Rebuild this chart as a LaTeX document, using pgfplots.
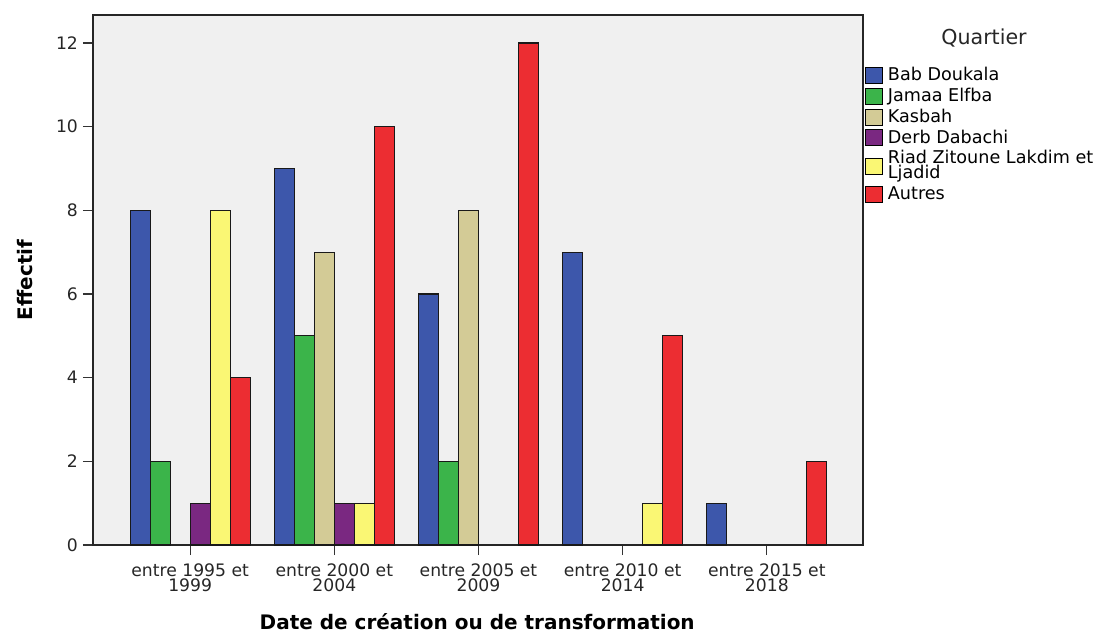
\documentclass[border=0pt]{standalone}
\usepackage{pgfplots}
\pgfplotsset{compat=1.18}
\usepackage{fontspec}
\setmainfont{DejaVu Sans}
\definecolor{cBab}{HTML}{3D57AB}
\definecolor{cJam}{HTML}{3BB44A}
\definecolor{cKas}{HTML}{D3CB96}
\definecolor{cDerb}{HTML}{7A2881}
\definecolor{cRiad}{HTML}{FAF774}
\definecolor{cAut}{HTML}{EC2D32}
\definecolor{bgc}{HTML}{F0F0F0}
\newcommand\lst{\rule[-2pt]{0pt}{8.5pt}}
\newcommand\lsth{\rule{0pt}{6.5pt}}
\newcommand\lstd{\rule[-2pt]{0pt}{2pt}}
\begin{document}
\begin{tikzpicture}
\useasboundingbox (0,0) rectangle (547pt,316pt);
\begin{axis}[
  at={(46.5pt,43.5pt)}, anchor=south west,
  scale only axis, width=385pt, height=265pt,
  axis background/.style={fill=bgc},
  ybar=0pt, bar width=10pt,
  xmin=-0.674, xmax=4.667, ymin=0, ymax=12.67,
  xtick={0,1,2,3,4},
  xticklabels={{entre 1995 et\\1999},{entre 2000 et\\2004},{entre 2005 et\\2009},{entre 2010 et\\2014},{entre 2015 et\\2018}},
  xticklabel style={align=center, font=\fontsize{8.6}{7.5}\selectfont, text=black!85, yshift=-1pt},
  ytick={0,2,4,6,8,10,12},
  yticklabel style={font=\fontsize{8.6}{8}\selectfont, text=black!85, xshift=1pt},
  /pgf/number format/assume math mode=true,
  tick align=outside, tickwidth=5pt,
  xtick pos=bottom, ytick pos=left,
  tick style={black!80, line width=0.6pt},
  axis line style={black!85, line width=0.7pt},
  ylabel={Effectif},
  ylabel style={font=\fontsize{10}{10}\selectfont\bfseries, at={(axis description cs:-0.088,0.5)}, anchor=center, rotate=0},
  xlabel={Date de création ou de transformation},
  xlabel style={font=\fontsize{10}{11}\selectfont\bfseries, at={(axis description cs:0.499,-0.145)}, anchor=center},
  legend style={at={(axis description cs:1.002,0.906)}, anchor=north west, draw=none, fill=none,
    font=\fontsize{8.8}{7.5}\selectfont, cells={anchor=west, align=left}, row sep=0pt, inner sep=0pt,
    nodes={inner xsep=2.5pt, inner ysep=1.1pt}},
  legend image code/.code={\draw[#1, draw=black, line width=0.5pt] (0pt,-4pt) rectangle (8.5pt,4pt);},
  clip=false,
  every axis plot/.append style={draw=black!90, line width=0.6pt},
]
\addplot[fill=cBab] coordinates {(0,8) (1,9) (2,6) (3,7) (4,1)};
\addplot[fill=cJam] coordinates {(0,2) (1,5) (2,2)};
\addplot[fill=cKas] coordinates {(1,7) (2,8)};
\addplot[fill=cDerb] coordinates {(0,1) (1,1)};
\addplot[fill=cRiad] coordinates {(0,8) (1,1) (3,1)};
\addplot[fill=cAut] coordinates {(0,4) (1,10) (2,12) (3,5) (4,2)};
\legend{\lst Bab Doukala, \lst Jamaa Elfba, \lst Kasbah, \lst Derb Dabachi, {\lsth Riad Zitoune Lakdim et\\Ljadid\lstd}, \lst Autres}
\end{axis}
\node[font=\fontsize{10.3}{10}\selectfont, text=black!85] at (492pt,297pt) {Quartier};
\end{tikzpicture}
\end{document}
